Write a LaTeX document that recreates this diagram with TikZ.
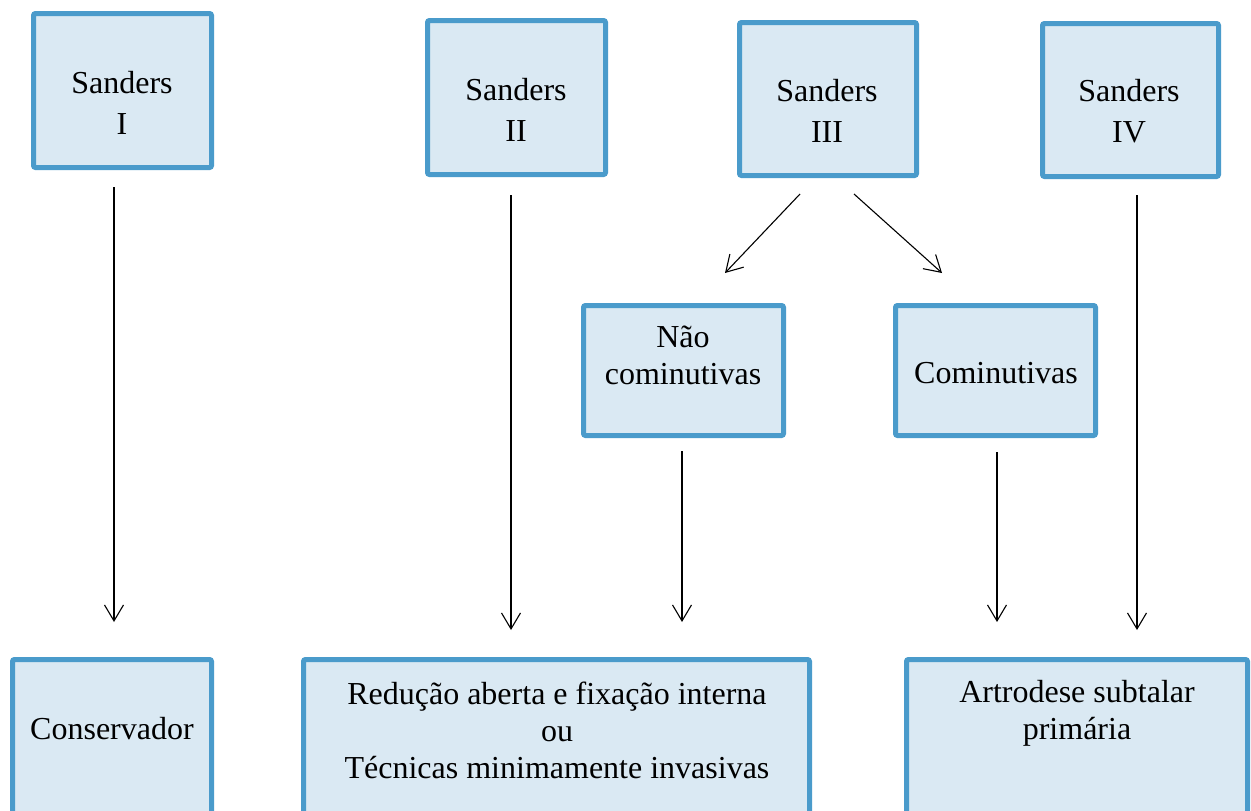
\documentclass[tikz,border=0pt]{standalone}
\usepackage{fontspec}
\setmainfont{Liberation Serif}
\usetikzlibrary{arrows.meta}
\definecolor{boxline}{HTML}{4A9BCB}
\definecolor{boxfill}{HTML}{DAE9F3}
\begin{document}
\begin{tikzpicture}[x=1pt,y=-1pt,
  box/.style={draw=boxline,fill=boxfill,line width=5pt,rounded corners=2pt,inner sep=0pt},
  txt/.style={align=center,font=\fontsize{32}{37}\selectfont,inner sep=0pt},
  stxt/.style={align=center,font=\fontsize{32}{41}\selectfont,inner sep=0pt},
  arr/.style={line width=1.1pt,-{Straight Barb[length=16pt,width=19pt,line width=1.1pt]}}]
\useasboundingbox (0,0) rectangle (1251,811);
\begin{scope}
\clip (0,0) rectangle (1251,811);
% top boxes
\node[box,minimum width=178,minimum height=154] (s1) at (122.5,90.5) {};
\node[stxt] (s1t) at (122,103) {Sanders\\I};
\node[box,minimum width=178,minimum height=154] (s2) at (516.5,97.5) {};
\node[stxt] (s2t) at (516,110) {Sanders\\II};
\node[box,minimum width=177,minimum height=153] (s3) at (828,99) {};
\node[stxt] (s3t) at (827,111) {Sanders\\III};
\node[box,minimum width=176,minimum height=153] (s4) at (1130.5,100) {};
\node[stxt] (s4t) at (1129,111) {Sanders\\IV};
% middle boxes
\node[box,minimum width=200,minimum height=130] (nc) at (683.5,370.5) {};
\node[txt] (nct) at (683,355) {Não\\cominutivas};
\node[box,minimum width=200,minimum height=130] (co) at (995.5,370.5) {};
\node[txt] (cot) at (996,373) {Cominutivas};
% bottom boxes
\node[box,minimum width=199,minimum height=170.5] (cons) at (112,744.75) {};
\node[txt] (const) at (112,729) {Conservador};
\node[box,minimum width=506,minimum height=170.5] (red) at (556.5,744.75) {};
\node[txt] (redt) at (557,730) {Redução aberta e fixação interna\\ou\\Técnicas minimamente invasivas};
\node[box,minimum width=341,minimum height=170.5] (art) at (1077,744.75) {};
\node[txt] (artt) at (1077,713) {Artrodese subtalar\\primária};
\end{scope}
% connector end points
\coordinate (a1s) at (114,187);  \coordinate (a1e) at (114,622);
\coordinate (a2s) at (511,195);  \coordinate (a2e) at (511,630);
\coordinate (a3s) at (800,194);  \coordinate (a3e) at (725,273);
\coordinate (a4s) at (854,194);  \coordinate (a4e) at (942,273);
\coordinate (a5s) at (682,451);  \coordinate (a5e) at (682,622);
\coordinate (a6s) at (997,452);  \coordinate (a6e) at (997,622);
\coordinate (a7s) at (1137,195); \coordinate (a7e) at (1137,630);
\draw[arr] (a1s) -- (a1e);
\draw[arr] (a2s) -- (a2e);
\draw[arr] (a3s) -- (a3e);
\draw[arr] (a4s) -- (a4e);
\draw[arr] (a5s) -- (a5e);
\draw[arr] (a6s) -- (a6e);
\draw[arr] (a7s) -- (a7e);
\end{tikzpicture}
\end{document}
